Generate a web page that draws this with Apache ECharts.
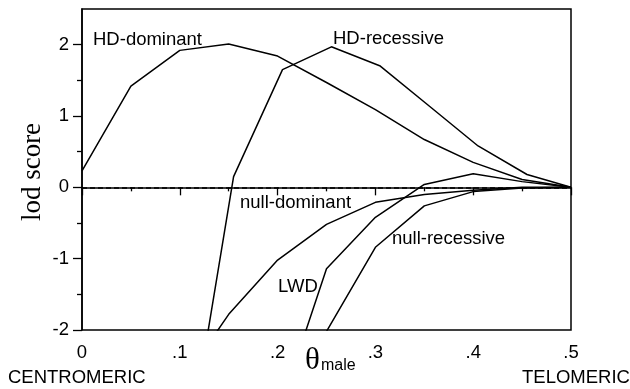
<!DOCTYPE html>
<html>
<head>
<meta charset="utf-8">
<script src="https://cdn.jsdelivr.net/npm/echarts@6/dist/echarts.min.js"></script>
<style>html,body{margin:0;padding:0;background:#fff}#c{width:630px;height:389px}</style>
</head>
<body>
<div id="c"></div>
<script>
// ---- data ----
var hdDominantX   = [0, 0.05, 0.1, 0.15, 0.2, 0.25, 0.3, 0.35, 0.4, 0.45, 0.5];
var hdDominantY   = [0.23, 1.42, 1.92, 2.01, 1.84, 1.47, 1.09, 0.67, 0.35, 0.11, 0.0];
var hdRecessiveX  = [0.105, 0.155, 0.205, 0.255, 0.305, 0.355, 0.405, 0.455, 0.5];
var hdRecessiveY  = [-4.0, 0.15, 1.65, 1.97, 1.70, 1.14, 0.58, 0.18, 0.0];
var nullDominantX = [0.1, 0.15, 0.2, 0.25, 0.3, 0.35, 0.4, 0.45, 0.5];
var nullDominantY = [-2.78, -1.78, -1.02, -0.52, -0.21, -0.10, -0.04, 0.0, 0.0];
var lwdX          = [0.2, 0.25, 0.3, 0.35, 0.4, 0.45, 0.5];
var lwdY          = [-3.2, -1.14, -0.42, 0.04, 0.19, 0.08, 0.0];
var nullRecessiveX= [0.25, 0.3, 0.35, 0.4, 0.45, 0.5];
var nullRecessiveY= [-2.02, -0.84, -0.26, -0.06, -0.01, 0.0];

var xTickValues = [0, 0.1, 0.2, 0.3, 0.4, 0.5];
var xTickLabels = ['0', '.1', '.2', '.3', '.4', '.5'];
var yTickValues = [-2, -1, 0, 1, 2];
var yTickLabels = ['-2', '-1', '0', '1', '2'];
var yMinorTicks = [-1.5, -0.5, 0.5, 1.5];

function pairs(xs, ys) { return xs.map(function (x, i) { return [x, ys[i]]; }); }
function lookup(vals, labels, v) {
  for (var i = 0; i < vals.length; i++) if (Math.abs(vals[i] - v) < 1e-6) return labels[i];
  return '';
}

var SANS = 'Liberation Sans, Arial, Helvetica, sans-serif';
var SERIF = 'Liberation Serif, Times New Roman, serif';
var lineStyle = { color: '#000', width: 1.5 };

function lineSeries(name, data) {
  return {
    name: name, type: 'line', data: data, symbol: 'none', clip: true,
    lineStyle: lineStyle, silent: true, animation: false
  };
}

var chart = echarts.init(document.getElementById('c'), null, { renderer: 'canvas' });
var series = [
  lineSeries('HD-dominant', pairs(hdDominantX, hdDominantY)),
  lineSeries('HD-recessive', pairs(hdRecessiveX, hdRecessiveY)),
  lineSeries('null-dominant', pairs(nullDominantX, nullDominantY)),
  lineSeries('LWD', pairs(lwdX, lwdY)),
  lineSeries('null-recessive', pairs(nullRecessiveX, nullRecessiveY))
];
series[0].markLine = {
  silent: true, symbol: 'none', animation: false,
  label: { show: false },
  lineStyle: { color: '#000', width: 1.5, type: [5, 3] },
  data: [{ yAxis: 0 }]
};

chart.setOption({
  animation: false,
  backgroundColor: '#fff',
  grid: { left: 82, right: 59, top: 9, bottom: 59, show: true, borderColor: '#000', borderWidth: 1.5, containLabel: false },
  xAxis: {
    type: 'value', min: 0, max: 0.5, interval: 0.1,
    axisLine: { show: true, lineStyle: { color: '#000', width: 1.5 } },
    axisTick: { show: true, inside: false, length: 8, lineStyle: { color: '#000', width: 1.3 } },
    minorTick: { show: true, splitNumber: 2, length: 4, lineStyle: { color: '#000', width: 1.3 } },
    splitLine: { show: false },
    axisLabel: { color: '#000', fontFamily: SANS, fontSize: 18.5, margin: 13,
      formatter: function (v) { return lookup(xTickValues, xTickLabels, v); } }
  },
  yAxis: [{
    type: 'value', min: -2, max: 2.5, interval: 0.5,
    axisLine: { show: true, lineStyle: { color: '#000', width: 1.5 } },
    axisTick: { show: true, inside: false, length: 9, customValues: yTickValues, lineStyle: { color: '#000', width: 1.3 } },
    splitLine: { show: false },
    axisLabel: { color: '#000', fontFamily: SANS, fontSize: 18.5, margin: 13, customValues: yTickValues,
      formatter: function (v) { return lookup(yTickValues, yTickLabels, v); } }
  }, {
    type: 'value', min: -2, max: 2.5, position: 'left',
    axisLine: { show: false },
    axisTick: { show: true, inside: false, length: 5, customValues: yMinorTicks, lineStyle: { color: '#000', width: 1.3 } },
    axisLabel: { show: false },
    splitLine: { show: false }
  }],
  series: series,
  graphic: [
    { type: 'text', x: 93, y: 40, style: { text: 'HD-dominant', font: '18.5px ' + SANS, fill: '#000', textVerticalAlign: 'middle' } },
    { type: 'text', x: 333, y: 39, style: { text: 'HD-recessive', font: '18.5px ' + SANS, fill: '#000', textVerticalAlign: 'middle' } },
    { type: 'text', x: 240, y: 203, style: { text: 'null-dominant', font: '18.5px ' + SANS, fill: '#000', textVerticalAlign: 'middle' } },
    { type: 'text', x: 278, y: 287, style: { text: 'LWD', font: '18.5px ' + SANS, fill: '#000', textVerticalAlign: 'middle' } },
    { type: 'text', x: 392, y: 239, style: { text: 'null-recessive', font: '18.5px ' + SANS, fill: '#000', textVerticalAlign: 'middle' } },
    { type: 'text', x: 8, y: 378, style: { text: 'CENTROMERIC', font: '18.5px ' + SANS, fill: '#000', textVerticalAlign: 'middle' } },
    { type: 'text', x: 522, y: 378, style: { text: 'TELOMERIC', font: '18.5px ' + SANS, fill: '#000', textVerticalAlign: 'middle' } },
    { type: 'text', x: 305, y: 361, style: { text: 'θ', font: '31px ' + SERIF, fill: '#000', textVerticalAlign: 'middle' } },
    { type: 'text', x: 321, y: 366, style: { text: 'male', font: '16px ' + SANS, fill: '#000', textVerticalAlign: 'middle' } },
    { type: 'text', x: 33, y: 172, rotation: Math.PI / 2, style: { text: 'lod score', font: '27px ' + SERIF, fill: '#000', textAlign: 'center', textVerticalAlign: 'middle' } }
  ]
});
</script>
</body>
</html>
